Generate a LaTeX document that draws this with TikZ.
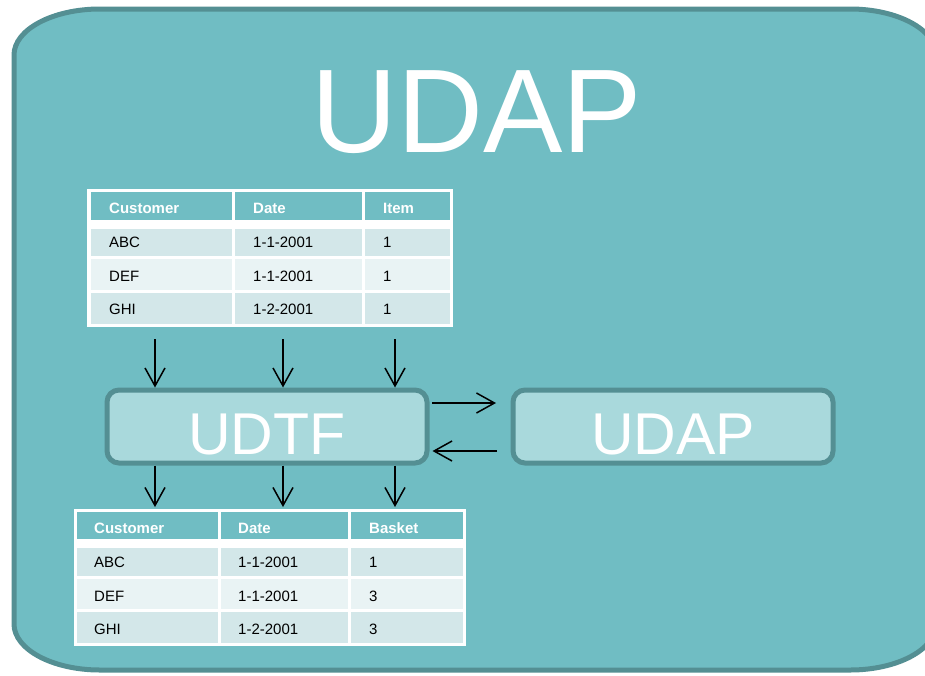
\documentclass[tikz,border=0pt]{standalone}
\usepackage{fontspec}
\setmainfont{Liberation Sans}
\usetikzlibrary{arrows.meta}
\definecolor{bgteal}{RGB}{112,189,195}
\definecolor{frameteal}{RGB}{84,143,147}
\definecolor{boxfill}{RGB}{169,217,220}
\definecolor{rowA}{RGB}{211,231,233}
\definecolor{rowB}{RGB}{233,243,244}
\tikzset{
  procbox/.style={draw=frameteal, line width=5pt, fill=boxfill, rounded corners=12pt,
    minimum width=320pt, minimum height=73pt, inner sep=0pt, text=white,
    font=\fontsize{59}{60}\selectfont, text height=55pt, text depth=0pt},
  hdr/.style={anchor=base west, inner sep=0pt, text=white, font=\fontsize{15}{18}\selectfont\bfseries},
  cell/.style={anchor=base west, inner sep=0pt, text=black, font=\fontsize{15}{18}\selectfont},
  flow/.style={line width=1.5pt, -{Straight Barb[length=18pt,width=20pt,line width=1.5pt]}},
}
\begin{document}
\begin{tikzpicture}[x=1pt,y=-1pt]
\useasboundingbox (0,0) rectangle (925,675);
\clip (0,0) rectangle (925,675);
\fill[white] (0,0) rectangle (925,675);
% outer frame
\draw[line width=5pt, draw=frameteal, fill=bgteal]
  (100,9) -- (850,9) .. controls (897.5,9) and (936,29.6) .. (936,55)
  -- (936,624) .. controls (936,649.4) and (897.5,670) .. (850,670)
  -- (100,670) .. controls (52.5,670) and (14,649.4) .. (14,624)
  -- (14,55) .. controls (14,29.6) and (52.5,9) .. (100,9) -- cycle;
% title
\node[anchor=base, inner sep=0pt, text=white, font=\fontsize{119}{120}\selectfont] (title) at (477,152) {UDAP};

% table 1
\fill[white] (87,189) rectangle (453,327);
\fill[bgteal] (91,192) rectangle (232,220);
\fill[bgteal] (235,192) rectangle (362,220);
\fill[bgteal] (365,192) rectangle (450,220);
\foreach \ya/\yb/\c in {229/256/rowA, 259/290/rowB, 293/324/rowA}{
  \fill[\c] (91,\ya) rectangle (232,\yb);
  \fill[\c] (235,\ya) rectangle (362,\yb);
  \fill[\c] (365,\ya) rectangle (450,\yb);
}
\node[hdr] (a-h1) at (109,213) {Customer};
\node[hdr] (a-h2) at (253,213) {Date};
\node[hdr] (a-h3) at (383,213) {Item};
\node[cell] (a-11) at (109,247) {ABC};
\node[cell] (a-12) at (253,247) {1-1-2001};
\node[cell] (a-13) at (383,247) {1};
\node[cell] (a-21) at (109,281) {DEF};
\node[cell] (a-22) at (253,281) {1-1-2001};
\node[cell] (a-23) at (383,281) {1};
\node[cell] (a-31) at (109,314) {GHI};
\node[cell] (a-32) at (253,314) {1-2-2001};
\node[cell] (a-33) at (383,314) {1};

% table 2
\fill[white] (74,509) rectangle (466,646);
\fill[bgteal] (77,512) rectangle (218,539);
\fill[bgteal] (221,512) rectangle (348,539);
\fill[bgteal] (351,512) rectangle (463,539);
\foreach \ya/\yb/\c in {548/576/rowA, 579/609/rowB, 612/643/rowA}{
  \fill[\c] (77,\ya) rectangle (218,\yb);
  \fill[\c] (221,\ya) rectangle (348,\yb);
  \fill[\c] (351,\ya) rectangle (463,\yb);
}
\node[hdr] (b-h1) at (94,533) {Customer};
\node[hdr] (b-h2) at (238,533) {Date};
\node[hdr] (b-h3) at (369,533) {Basket};
\node[cell] (b-11) at (94,567) {ABC};
\node[cell] (b-12) at (238,567) {1-1-2001};
\node[cell] (b-13) at (369,567) {1};
\node[cell] (b-21) at (94,601) {DEF};
\node[cell] (b-22) at (238,601) {1-1-2001};
\node[cell] (b-23) at (369,601) {3};
\node[cell] (b-31) at (94,634) {GHI};
\node[cell] (b-32) at (238,634) {1-2-2001};
\node[cell] (b-33) at (369,634) {3};

% process boxes
\node[procbox] (udtf) at (267,426.5) {UDTF};
\node[procbox] (udap) at (673,426.5) {UDAP};

% arrows in
\coordinate (in1) at (155,339);
\coordinate (in2) at (283,339);
\coordinate (in3) at (395,339);
\foreach \k in {1,2,3}{
  \draw[flow] (in\k) -- (in\k |- udtf.north);
}
% arrows out
\coordinate (out1) at (155,507);
\coordinate (out2) at (283,507);
\coordinate (out3) at (395,507);
\foreach \k in {1,2,3}{
  \draw[flow] (udtf.south -| out\k) -- (out\k);
}
% exchange arrows
\coordinate (r1) at (496,403);
\coordinate (l1) at (497,451);
\draw[flow, shorten <=2.5pt] (udtf.east |- r1) -- (r1);
\draw[flow, shorten >=3pt] (l1) -- (udtf.east |- l1);
\end{tikzpicture}
\end{document}
